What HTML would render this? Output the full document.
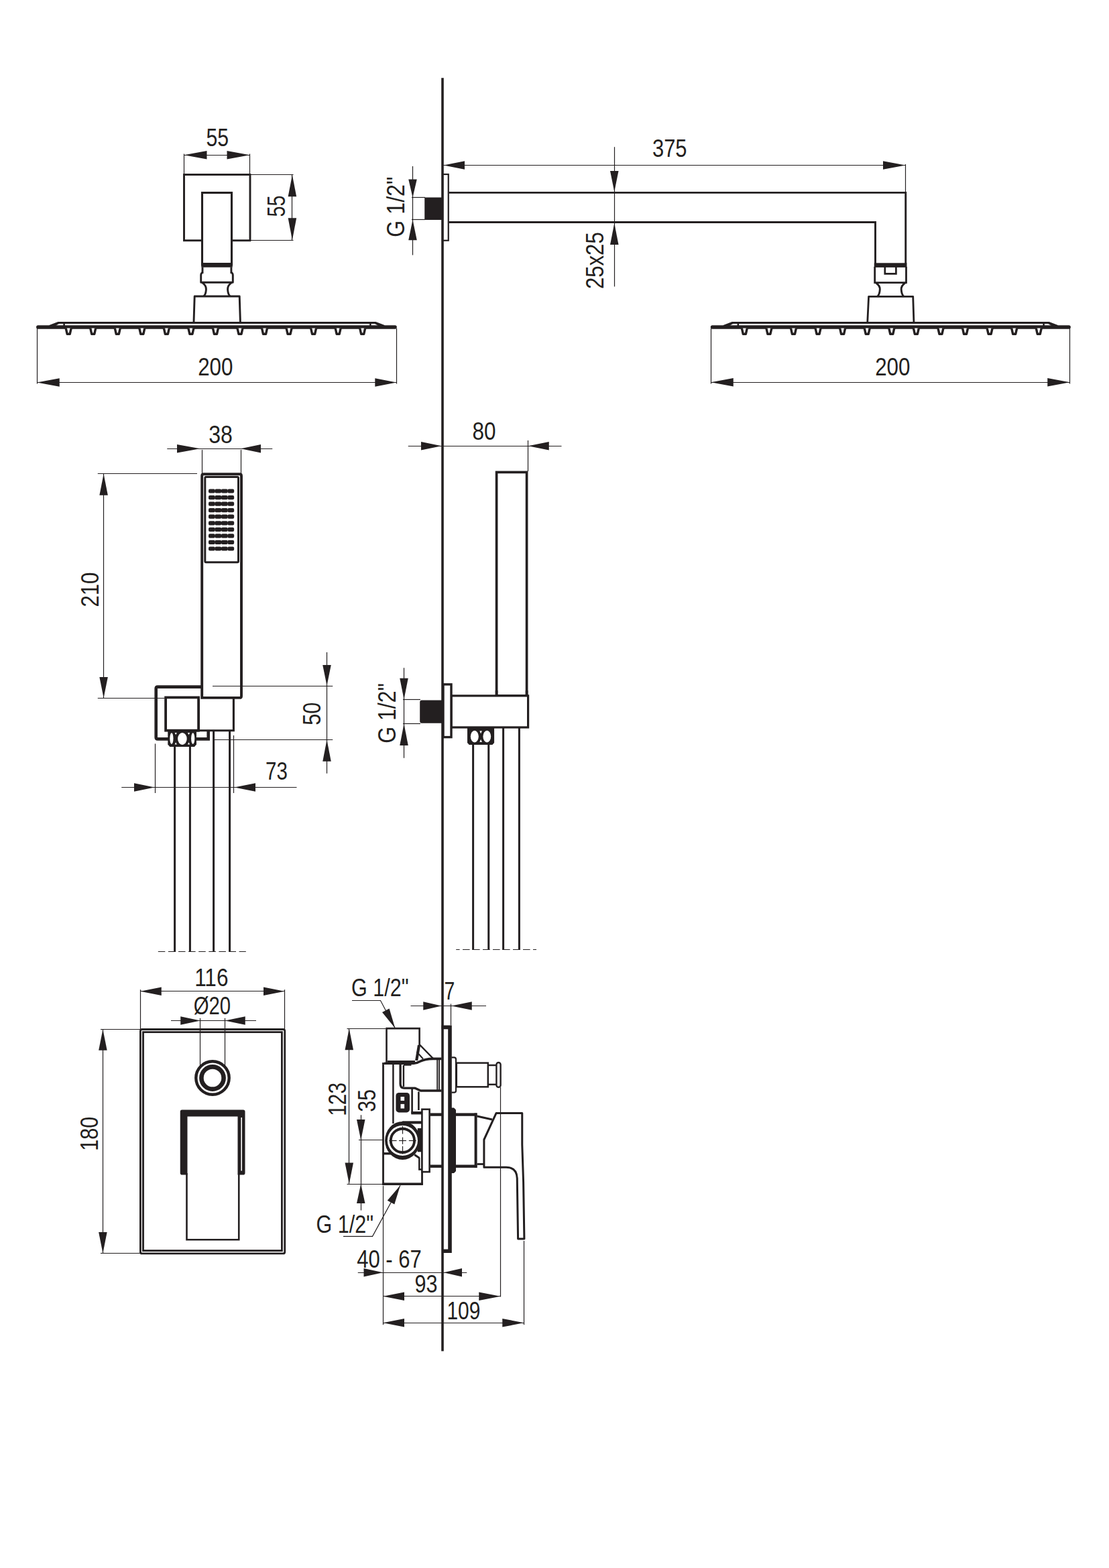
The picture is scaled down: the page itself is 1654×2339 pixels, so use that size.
<!DOCTYPE html>
<html lang="en">
<head>
<meta charset="utf-8">
<title>Shower set technical drawing</title>
<style>
html,body{margin:0;padding:0;background:#fff}
body{width:1654px;height:2339px;overflow:hidden}
svg{display:block}
text{font-family:"Liberation Sans",Arial,sans-serif;fill:#231f20}
</style>
</head>
<body>
<svg width="1654" height="2339" viewBox="0 0 1654 2339" role="img" aria-label="Shower set dimensional drawing">
<rect width="1654" height="2339" fill="#fff"/>
<!-- wall -->
<line x1="660" y1="116.25" x2="660" y2="2015.5" stroke="#231f20" stroke-width="3.6"/>
<!-- front view head -->
<text transform="translate(307.39 218.31) scale(0.8287 1)" font-size="36.5">55</text>
<line x1="274.5" y1="231.5" x2="372.5" y2="231.5" stroke="#231f20" stroke-width="1.2"/>
<polygon points="274.5,231.25 308.5,237.5 308.5,225" fill="#231f20"/>
<polygon points="372.5,231.25 338.5,225 338.5,237.5" fill="#231f20"/>
<line x1="274.5" y1="229.5" x2="274.5" y2="260" stroke="#231f20" stroke-width="1.2"/>
<line x1="372.5" y1="229.5" x2="372.5" y2="260" stroke="#231f20" stroke-width="1.2"/>
<line x1="373" y1="260.5" x2="437.5" y2="260.5" stroke="#231f20" stroke-width="1.2"/>
<line x1="373" y1="358.5" x2="437.5" y2="358.5" stroke="#231f20" stroke-width="1.2"/>
<line x1="435.5" y1="260.5" x2="435.5" y2="358.5" stroke="#231f20" stroke-width="1.2"/>
<polygon points="435.9,261 429.65,293.2 442.15,293.2" fill="#231f20"/>
<polygon points="435.9,358 442.15,325.3 429.65,325.3" fill="#231f20"/>
<text transform="translate(424.81 323.46) rotate(-90) scale(0.7916 1)" font-size="36.5">55</text>
<rect x="274.5" y="260.5" width="98.5" height="98.25" fill="none" stroke="#231f20" stroke-width="2.9"/>
<rect x="301.5" y="287.5" width="44" height="107.5" fill="#fff" stroke="#231f20" stroke-width="3.1"/>
<rect x="300.3" y="392" width="46.4" height="6.75" fill="#231f20"/>
<line x1="302" y1="398.5" x2="302" y2="408" stroke="#231f20" stroke-width="2.9"/>
<line x1="344.9" y1="398.5" x2="344.9" y2="408" stroke="#231f20" stroke-width="2.9"/>
<path d="M302,406.5 Q299.7,407.5 299.7,410.5 V421.2 H347.3 V410.5 Q347.3,407.5 345,406.5" fill="none" stroke="#231f20" stroke-width="2.9" stroke-linejoin="round"/>
<path d="M301.5,421.6 C306,424.5 307.6,428 307.4,432 C307.1,437 306,440 303.7,442" fill="none" stroke="#231f20" stroke-width="2.9"/>
<path d="M345.5,421.6 C341,424.5 339.4,428 339.6,432 C339.9,437 341,440 343.3,442" fill="none" stroke="#231f20" stroke-width="2.9"/>
<path d="M289,480 L290.2,442 H357.2 L358.4,480" fill="none" stroke="#231f20" stroke-width="2.9" stroke-linejoin="round"/>
<line x1="56.7" y1="488" x2="589.2" y2="488" stroke="#231f20" stroke-width="5.3" stroke-linecap="round"/>
<line x1="86" y1="481.5" x2="561" y2="481.5" stroke="#231f20" stroke-width="3.1"/>
<path d="M86.5,480 L73.5,485 V488 H79 L88,483.1 Z" fill="#231f20"/>
<path d="M560.5,480 L573.5,485 V488 H568 L559,483.1 Z" fill="#231f20"/>
<line x1="95.6" y1="481.5" x2="95.6" y2="486" stroke="#231f20" stroke-width="2.6"/>
<line x1="552.4" y1="481.5" x2="552.4" y2="486" stroke="#231f20" stroke-width="2.6"/>
<path d="M98.2,489.5 L100.2,498.3 H104.2 L106.2,489.5" fill="#fff" stroke="#231f20" stroke-width="3.4" stroke-linejoin="round"/>
<path d="M134.74,489.5 L136.74,498.3 H140.74 L142.74,489.5" fill="#fff" stroke="#231f20" stroke-width="3.4" stroke-linejoin="round"/>
<path d="M171.28,489.5 L173.28,498.3 H177.28 L179.28,489.5" fill="#fff" stroke="#231f20" stroke-width="3.4" stroke-linejoin="round"/>
<path d="M207.82,489.5 L209.82,498.3 H213.82 L215.82,489.5" fill="#fff" stroke="#231f20" stroke-width="3.4" stroke-linejoin="round"/>
<path d="M244.36,489.5 L246.36,498.3 H250.36 L252.36,489.5" fill="#fff" stroke="#231f20" stroke-width="3.4" stroke-linejoin="round"/>
<path d="M280.9,489.5 L282.9,498.3 H286.9 L288.9,489.5" fill="#fff" stroke="#231f20" stroke-width="3.4" stroke-linejoin="round"/>
<path d="M317.44,489.5 L319.44,498.3 H323.44 L325.44,489.5" fill="#fff" stroke="#231f20" stroke-width="3.4" stroke-linejoin="round"/>
<path d="M353.98,489.5 L355.98,498.3 H359.98 L361.98,489.5" fill="#fff" stroke="#231f20" stroke-width="3.4" stroke-linejoin="round"/>
<path d="M390.52,489.5 L392.52,498.3 H396.52 L398.52,489.5" fill="#fff" stroke="#231f20" stroke-width="3.4" stroke-linejoin="round"/>
<path d="M427.06,489.5 L429.06,498.3 H433.06 L435.06,489.5" fill="#fff" stroke="#231f20" stroke-width="3.4" stroke-linejoin="round"/>
<path d="M463.6,489.5 L465.6,498.3 H469.6 L471.6,489.5" fill="#fff" stroke="#231f20" stroke-width="3.4" stroke-linejoin="round"/>
<path d="M500.14,489.5 L502.14,498.3 H506.14 L508.14,489.5" fill="#fff" stroke="#231f20" stroke-width="3.4" stroke-linejoin="round"/>
<path d="M536.68,489.5 L538.68,498.3 H542.68 L544.68,489.5" fill="#fff" stroke="#231f20" stroke-width="3.4" stroke-linejoin="round"/>
<line x1="55.5" y1="490" x2="55.5" y2="572.5" stroke="#231f20" stroke-width="1.2"/>
<line x1="591.5" y1="490" x2="591.5" y2="572.5" stroke="#231f20" stroke-width="1.2"/>
<line x1="55" y1="570.5" x2="591.3" y2="570.5" stroke="#231f20" stroke-width="1.2"/>
<polygon points="55,570.4 88.75,576.65 88.75,564.15" fill="#231f20"/>
<polygon points="591.3,570.4 559.3,564.15 559.3,576.65" fill="#231f20"/>
<text transform="translate(295.14 559.67) scale(0.8599 1)" font-size="36.5">200</text>
<!-- side view arm -->
<rect x="660" y="260" width="8.75" height="98.75" fill="none" stroke="#231f20" stroke-width="2.2"/>
<rect x="633.25" y="294.5" width="26.75" height="33.5" fill="#231f20"/>
<line x1="615.5" y1="248" x2="615.5" y2="380.5" stroke="#231f20" stroke-width="1.2"/>
<polygon points="615.5,294.5 621.75,267.5 609.25,267.5" fill="#231f20"/>
<polygon points="615.5,327.8 609.25,358.25 621.75,358.25" fill="#231f20"/>
<line x1="614" y1="294.5" x2="634" y2="294.5" stroke="#231f20" stroke-width="1.2"/>
<line x1="614" y1="327.5" x2="634" y2="327.5" stroke="#231f20" stroke-width="1.2"/>
<text transform="translate(603.04 353.65) rotate(-90) scale(0.8809 1)" font-size="36.5">G 1/2&quot;</text>
<line x1="661" y1="246.5" x2="1350.5" y2="246.5" stroke="#231f20" stroke-width="1.2"/>
<polygon points="661.5,246.5 693,252.75 693,240.25" fill="#231f20"/>
<polygon points="1350.5,246.5 1317,240.25 1317,252.75" fill="#231f20"/>
<line x1="1350.5" y1="245" x2="1350.5" y2="287" stroke="#231f20" stroke-width="1.2"/>
<text transform="translate(973.01 233.82) scale(0.8466 1)" font-size="36.5">375</text>
<line x1="916.5" y1="219.25" x2="916.5" y2="427.5" stroke="#231f20" stroke-width="1.2"/>
<polygon points="916.25,286 922.5,255 910,255" fill="#231f20"/>
<polygon points="916.25,333 910,365 922.5,365" fill="#231f20"/>
<text transform="translate(899.67 431.1) rotate(-90) scale(0.8537 1)" font-size="36.5">25x25</text>
<path d="M669.5,287.4 H1350.75 V393" fill="none" stroke="#231f20" stroke-width="2.9"/>
<path d="M669.5,331.5 H1305.5 V393" fill="none" stroke="#231f20" stroke-width="2.9"/>
<rect x="1303.75" y="392.3" width="48.75" height="6.6" fill="#231f20"/>
<path d="M1304.7,398 V421.6 H1351.5 V398" fill="none" stroke="#231f20" stroke-width="2.8"/>
<path d="M1319.8,398 V408.3 H1336.4 V398" fill="none" stroke="#231f20" stroke-width="2.7"/>
<path d="M1306.5,422 C1311,425 1312.5,428 1312.3,432 C1312,437 1311,440 1308.5,442.4" fill="none" stroke="#231f20" stroke-width="2.9"/>
<path d="M1350,422 C1345.5,425 1344,428 1344.2,432 C1344.5,437 1345.5,440 1348,442.4" fill="none" stroke="#231f20" stroke-width="2.9"/>
<path d="M1293.8,480 L1295.6,442.4 H1361.7 L1362.9,480" fill="none" stroke="#231f20" stroke-width="2.8" stroke-linejoin="round"/>
<line x1="1062.4" y1="488" x2="1594.2" y2="488" stroke="#231f20" stroke-width="5.3" stroke-linecap="round"/>
<line x1="1091.25" y1="481.5" x2="1565.2" y2="481.5" stroke="#231f20" stroke-width="3.1"/>
<path d="M1091.75,480 L1078.75,485 V488 H1084.25 L1093.25,483.1 Z" fill="#231f20"/>
<path d="M1564.7,480 L1577.7,485 V488 H1572.2 L1563.2,483.1 Z" fill="#231f20"/>
<line x1="1100.85" y1="481.5" x2="1100.85" y2="486" stroke="#231f20" stroke-width="2.6"/>
<line x1="1556.6" y1="481.5" x2="1556.6" y2="486" stroke="#231f20" stroke-width="2.6"/>
<path d="M1106.3,489.5 L1108.3,498.3 H1112.3 L1114.3,489.5" fill="#fff" stroke="#231f20" stroke-width="3.4" stroke-linejoin="round"/>
<path d="M1142.88,489.5 L1144.88,498.3 H1148.88 L1150.88,489.5" fill="#fff" stroke="#231f20" stroke-width="3.4" stroke-linejoin="round"/>
<path d="M1179.46,489.5 L1181.46,498.3 H1185.46 L1187.46,489.5" fill="#fff" stroke="#231f20" stroke-width="3.4" stroke-linejoin="round"/>
<path d="M1216.04,489.5 L1218.04,498.3 H1222.04 L1224.04,489.5" fill="#fff" stroke="#231f20" stroke-width="3.4" stroke-linejoin="round"/>
<path d="M1252.62,489.5 L1254.62,498.3 H1258.62 L1260.62,489.5" fill="#fff" stroke="#231f20" stroke-width="3.4" stroke-linejoin="round"/>
<path d="M1289.2,489.5 L1291.2,498.3 H1295.2 L1297.2,489.5" fill="#fff" stroke="#231f20" stroke-width="3.4" stroke-linejoin="round"/>
<path d="M1325.78,489.5 L1327.78,498.3 H1331.78 L1333.78,489.5" fill="#fff" stroke="#231f20" stroke-width="3.4" stroke-linejoin="round"/>
<path d="M1362.36,489.5 L1364.36,498.3 H1368.36 L1370.36,489.5" fill="#fff" stroke="#231f20" stroke-width="3.4" stroke-linejoin="round"/>
<path d="M1398.94,489.5 L1400.94,498.3 H1404.94 L1406.94,489.5" fill="#fff" stroke="#231f20" stroke-width="3.4" stroke-linejoin="round"/>
<path d="M1435.52,489.5 L1437.52,498.3 H1441.52 L1443.52,489.5" fill="#fff" stroke="#231f20" stroke-width="3.4" stroke-linejoin="round"/>
<path d="M1472.1,489.5 L1474.1,498.3 H1478.1 L1480.1,489.5" fill="#fff" stroke="#231f20" stroke-width="3.4" stroke-linejoin="round"/>
<path d="M1508.68,489.5 L1510.68,498.3 H1514.68 L1516.68,489.5" fill="#fff" stroke="#231f20" stroke-width="3.4" stroke-linejoin="round"/>
<path d="M1545.26,489.5 L1547.26,498.3 H1551.26 L1553.26,489.5" fill="#fff" stroke="#231f20" stroke-width="3.4" stroke-linejoin="round"/>
<line x1="1060.5" y1="490" x2="1060.5" y2="572.5" stroke="#231f20" stroke-width="1.2"/>
<line x1="1595.5" y1="490" x2="1595.5" y2="572.5" stroke="#231f20" stroke-width="1.2"/>
<line x1="1060.3" y1="570.5" x2="1595.5" y2="570.5" stroke="#231f20" stroke-width="1.2"/>
<polygon points="1060.3,570.2 1093.75,576.45 1093.75,563.95" fill="#231f20"/>
<polygon points="1595.5,570.2 1562.25,563.95 1562.25,576.45" fill="#231f20"/>
<text transform="translate(1305.14 559.82) scale(0.8599 1)" font-size="36.5">200</text>
<!-- hand shower front -->
<text transform="translate(311.22 661.07) scale(0.8790 1)" font-size="36.5">38</text>
<line x1="249.25" y1="669.5" x2="406.25" y2="669.5" stroke="#231f20" stroke-width="1.2"/>
<polygon points="298.5,669.25 264,663 264,675.5" fill="#231f20"/>
<polygon points="359,669.25 389,675.5 389,663" fill="#231f20"/>
<line x1="301.5" y1="671" x2="301.5" y2="706" stroke="#231f20" stroke-width="1.2"/>
<line x1="359.5" y1="671" x2="359.5" y2="706" stroke="#231f20" stroke-width="1.2"/>
<path d="M301,1024.6 H235 Q232.7,1024.6 232.7,1027 V1100 Q232.7,1102.4 235,1102.4 H310.7 V1090" fill="none" stroke="#231f20" stroke-width="4.6"/>
<path d="M301.2,1040.9 V709.7 Q301.2,707.2 303.7,707.2 H357.5 Q360,707.2 360,709.7 V1038.4 Q360,1040.9 357.5,1040.9 Z" fill="#fff" stroke="#231f20" stroke-width="3.9"/>
<rect x="305.8" y="711.6" width="49.7" height="127.15" fill="none" rx="1.5" stroke="#231f20" stroke-width="3"/>
<rect x="311" y="729.4" width="9.8" height="6.2" fill="#231f20" rx="2"/>
<rect x="320.45" y="729.4" width="9.8" height="6.2" fill="#231f20" rx="2"/>
<rect x="329.9" y="729.4" width="9.8" height="6.2" fill="#231f20" rx="2"/>
<rect x="339.35" y="729.4" width="9.8" height="6.2" fill="#231f20" rx="2"/>
<rect x="311" y="738.96" width="9.8" height="6.2" fill="#231f20" rx="2"/>
<rect x="320.45" y="738.96" width="9.8" height="6.2" fill="#231f20" rx="2"/>
<rect x="329.9" y="738.96" width="9.8" height="6.2" fill="#231f20" rx="2"/>
<rect x="339.35" y="738.96" width="9.8" height="6.2" fill="#231f20" rx="2"/>
<rect x="311" y="748.51" width="9.8" height="6.2" fill="#231f20" rx="2"/>
<rect x="320.45" y="748.51" width="9.8" height="6.2" fill="#231f20" rx="2"/>
<rect x="329.9" y="748.51" width="9.8" height="6.2" fill="#231f20" rx="2"/>
<rect x="339.35" y="748.51" width="9.8" height="6.2" fill="#231f20" rx="2"/>
<rect x="311" y="758.07" width="9.8" height="6.2" fill="#231f20" rx="2"/>
<rect x="320.45" y="758.07" width="9.8" height="6.2" fill="#231f20" rx="2"/>
<rect x="329.9" y="758.07" width="9.8" height="6.2" fill="#231f20" rx="2"/>
<rect x="339.35" y="758.07" width="9.8" height="6.2" fill="#231f20" rx="2"/>
<rect x="311" y="767.62" width="9.8" height="6.2" fill="#231f20" rx="2"/>
<rect x="320.45" y="767.62" width="9.8" height="6.2" fill="#231f20" rx="2"/>
<rect x="329.9" y="767.62" width="9.8" height="6.2" fill="#231f20" rx="2"/>
<rect x="339.35" y="767.62" width="9.8" height="6.2" fill="#231f20" rx="2"/>
<rect x="311" y="777.18" width="9.8" height="6.2" fill="#231f20" rx="2"/>
<rect x="320.45" y="777.18" width="9.8" height="6.2" fill="#231f20" rx="2"/>
<rect x="329.9" y="777.18" width="9.8" height="6.2" fill="#231f20" rx="2"/>
<rect x="339.35" y="777.18" width="9.8" height="6.2" fill="#231f20" rx="2"/>
<rect x="311" y="786.74" width="9.8" height="6.2" fill="#231f20" rx="2"/>
<rect x="320.45" y="786.74" width="9.8" height="6.2" fill="#231f20" rx="2"/>
<rect x="329.9" y="786.74" width="9.8" height="6.2" fill="#231f20" rx="2"/>
<rect x="339.35" y="786.74" width="9.8" height="6.2" fill="#231f20" rx="2"/>
<rect x="311" y="796.29" width="9.8" height="6.2" fill="#231f20" rx="2"/>
<rect x="320.45" y="796.29" width="9.8" height="6.2" fill="#231f20" rx="2"/>
<rect x="329.9" y="796.29" width="9.8" height="6.2" fill="#231f20" rx="2"/>
<rect x="339.35" y="796.29" width="9.8" height="6.2" fill="#231f20" rx="2"/>
<rect x="311" y="805.85" width="9.8" height="6.2" fill="#231f20" rx="2"/>
<rect x="320.45" y="805.85" width="9.8" height="6.2" fill="#231f20" rx="2"/>
<rect x="329.9" y="805.85" width="9.8" height="6.2" fill="#231f20" rx="2"/>
<rect x="339.35" y="805.85" width="9.8" height="6.2" fill="#231f20" rx="2"/>
<rect x="311" y="815.4" width="9.8" height="6.2" fill="#231f20" rx="2"/>
<rect x="320.45" y="815.4" width="9.8" height="6.2" fill="#231f20" rx="2"/>
<rect x="329.9" y="815.4" width="9.8" height="6.2" fill="#231f20" rx="2"/>
<rect x="339.35" y="815.4" width="9.8" height="6.2" fill="#231f20" rx="2"/>
<rect x="247.1" y="1040.4" width="49" height="49.3" fill="none" stroke="#231f20" stroke-width="3.8"/>
<path d="M348.4,1041 V1089.7 H296" fill="none" stroke="#231f20" stroke-width="3.1"/>
<path d="M250.3,1089 V1110.5 L253.3,1113.9 H290 L293,1110.5 V1089 Z" fill="#231f20"/>
<ellipse cx="271.9" cy="1102" rx="6.8" ry="9" fill="#fff"/>
<ellipse cx="255.9" cy="1101.6" rx="2.6" ry="8.3" fill="#fff"/>
<ellipse cx="287.7" cy="1101.6" rx="2.6" ry="8.3" fill="#fff"/>
<path d="M260.59999999999997,1093 H263.8 L262.2,1096.2 Z" fill="#fff"/>
<path d="M260.59999999999997,1110.4 H263.8 L262.2,1107.2 Z" fill="#fff"/>
<path d="M279.9,1093 H283.1 L281.5,1096.2 Z" fill="#fff"/>
<path d="M279.9,1110.4 H283.1 L281.5,1107.2 Z" fill="#fff"/>
<line x1="250.5" y1="1090" x2="296" y2="1090" stroke="#231f20" stroke-width="3.2"/>
<line x1="260.6" y1="1113" x2="260.6" y2="1420" stroke="#231f20" stroke-width="3"/>
<line x1="283.4" y1="1113" x2="283.4" y2="1420" stroke="#231f20" stroke-width="3"/>
<line x1="318.6" y1="1090" x2="318.6" y2="1420" stroke="#231f20" stroke-width="3"/>
<line x1="342.6" y1="1090" x2="342.6" y2="1420" stroke="#231f20" stroke-width="3"/>
<line x1="235.8" y1="1419.5" x2="366.8" y2="1419.5" stroke="#231f20" stroke-width="1.1" stroke-dasharray="10.5 4.6"/>
<line x1="154.5" y1="707" x2="154.5" y2="1041" stroke="#231f20" stroke-width="1.2"/>
<polygon points="154.6,707 148.35,738.75 160.85,738.75" fill="#231f20"/>
<polygon points="154.6,1041 160.85,1010 148.35,1010" fill="#231f20"/>
<line x1="145.75" y1="706.5" x2="294" y2="706.5" stroke="#231f20" stroke-width="1.2"/>
<line x1="145.75" y1="1041.5" x2="245.5" y2="1041.5" stroke="#231f20" stroke-width="1.2"/>
<text transform="translate(146.57 905.6) rotate(-90) scale(0.8547 1)" font-size="36.5">210</text>
<line x1="487.5" y1="973" x2="487.5" y2="1153.75" stroke="#231f20" stroke-width="1.2"/>
<polygon points="487.5,1022.8 493.75,992 481.25,992" fill="#231f20"/>
<polygon points="487.5,1103.4 481.25,1135.75 493.75,1135.75" fill="#231f20"/>
<line x1="317" y1="1023.5" x2="496.25" y2="1023.5" stroke="#231f20" stroke-width="1.2"/>
<line x1="319.75" y1="1103.5" x2="496.25" y2="1103.5" stroke="#231f20" stroke-width="1.2"/>
<text transform="translate(478.17 1081.73) rotate(-90) scale(0.8410 1)" font-size="36.5">50</text>
<line x1="181.25" y1="1174.5" x2="442.5" y2="1174.5" stroke="#231f20" stroke-width="1.2"/>
<polygon points="230.5,1174.4 200,1168.15 200,1180.65" fill="#231f20"/>
<polygon points="349.5,1174.4 381,1180.65 381,1168.15" fill="#231f20"/>
<line x1="231.5" y1="1109.4" x2="231.5" y2="1183" stroke="#231f20" stroke-width="1.2"/>
<line x1="348.5" y1="1097" x2="348.5" y2="1183" stroke="#231f20" stroke-width="1.2"/>
<text transform="translate(395.98 1163.32) scale(0.8081 1)" font-size="36.5">73</text>
<!-- hand shower side -->
<text transform="translate(704.4 656.32) scale(0.8633 1)" font-size="36.5">80</text>
<line x1="608.75" y1="665.5" x2="837.5" y2="665.5" stroke="#231f20" stroke-width="1.2"/>
<polygon points="658.5,665.25 628,659 628,671.5" fill="#231f20"/>
<polygon points="787.75,665.25 818.75,671.5 818.75,659" fill="#231f20"/>
<line x1="787.5" y1="657" x2="787.5" y2="703" stroke="#231f20" stroke-width="1.2"/>
<rect x="740.6" y="704.4" width="45" height="333.6" fill="none" stroke="#231f20" stroke-width="3.7"/>
<rect x="673" y="1037.9" width="114.6" height="47.1" fill="#fff" stroke="#231f20" stroke-width="3.2"/>
<line x1="740.6" y1="1030" x2="740.6" y2="1038" stroke="#231f20" stroke-width="3.7"/>
<line x1="785.6" y1="1030" x2="785.6" y2="1038" stroke="#231f20" stroke-width="3.7"/>
<rect x="661" y="1020.9" width="12" height="78.7" fill="#fff" stroke="#231f20" stroke-width="3.4"/>
<path d="M660,1044.5 H629 Q626.2,1044.5 626.2,1047.5 V1075.7 Q626.2,1078.7 629,1078.7 H660 Z" fill="#231f20"/>
<line x1="602.5" y1="996.25" x2="602.5" y2="1130.75" stroke="#231f20" stroke-width="1.2"/>
<polygon points="602.5,1043.3 608.75,1011.75 596.25,1011.75" fill="#231f20"/>
<polygon points="602.5,1079.5 596.25,1112 608.75,1112" fill="#231f20"/>
<line x1="601" y1="1043.5" x2="627" y2="1043.5" stroke="#231f20" stroke-width="1.2"/>
<line x1="601" y1="1079.5" x2="627" y2="1079.5" stroke="#231f20" stroke-width="1.2"/>
<text transform="translate(589.54 1108.64) rotate(-90) scale(0.8759 1)" font-size="36.5">G 1/2&quot;</text>
<path d="M697,1084.3 V1108 L699.7,1110.9 H734.4 L737.1,1108 V1084.3 Z" fill="#231f20"/>
<ellipse cx="707.8" cy="1098.6" rx="6" ry="8.8" fill="#fff"/>
<ellipse cx="726.3" cy="1098.6" rx="5.9" ry="8.8" fill="#fff"/>
<path d="M715.3,1090.2 H718.9 L717.1,1094.4 Z" fill="#fff"/>
<path d="M715.3,1107 H718.9 L717.1,1102.8 Z" fill="#fff"/>
<line x1="705.6" y1="1109.5" x2="705.6" y2="1417" stroke="#231f20" stroke-width="3"/>
<line x1="728.75" y1="1109.5" x2="728.75" y2="1417" stroke="#231f20" stroke-width="3"/>
<line x1="750.6" y1="1085" x2="750.6" y2="1417" stroke="#231f20" stroke-width="3"/>
<line x1="774.4" y1="1085" x2="774.4" y2="1417" stroke="#231f20" stroke-width="3"/>
<line x1="680.2" y1="1416.5" x2="800" y2="1416.5" stroke="#231f20" stroke-width="1.1" stroke-dasharray="10.6 4.4" stroke-dashoffset="5.2"/>
<!-- valve front -->
<text transform="translate(290.17 1471.42) scale(0.8641 1)" font-size="36.5">116</text>
<line x1="209.25" y1="1478.5" x2="424.5" y2="1478.5" stroke="#231f20" stroke-width="1.2"/>
<polygon points="209.25,1478.75 240.75,1485 240.75,1472.5" fill="#231f20"/>
<polygon points="424.5,1478.75 393,1472.5 393,1485" fill="#231f20"/>
<line x1="209.5" y1="1476.25" x2="209.5" y2="1535" stroke="#231f20" stroke-width="1.2"/>
<line x1="424.5" y1="1476.25" x2="424.5" y2="1535" stroke="#231f20" stroke-width="1.2"/>
<text transform="translate(288.76 1513.27) scale(0.8034 1)" font-size="36.5">Ø20</text>
<line x1="255" y1="1522.5" x2="382" y2="1522.5" stroke="#231f20" stroke-width="1.2"/>
<polygon points="298.75,1522.5 269.25,1516.25 269.25,1528.75" fill="#231f20"/>
<polygon points="335.5,1522.5 365.75,1528.75 365.75,1516.25" fill="#231f20"/>
<line x1="298.5" y1="1518.75" x2="298.5" y2="1592" stroke="#231f20" stroke-width="1.2"/>
<line x1="335.5" y1="1518.75" x2="335.5" y2="1592" stroke="#231f20" stroke-width="1.2"/>
<rect x="209.4" y="1535.5" width="215.35" height="334.4" fill="none" rx="2.5" stroke="#231f20" stroke-width="2.8"/>
<rect x="213.5" y="1539.6" width="206.9" height="326" fill="none" stroke="#231f20" stroke-width="2.8"/>
<circle cx="317" cy="1608" r="24.7" fill="#fff" stroke="#231f20" stroke-width="4.4"/>
<circle cx="317" cy="1608" r="16.6" fill="#fff" stroke="#231f20" stroke-width="6.6"/>
<path d="M278.5,1750 V1849.25 H356.25 V1750" fill="none" stroke="#231f20" stroke-width="2.6"/>
<path d="M271.5,1655.5 H362.7 Q365.5,1655.5 365.5,1658.3 V1749.7 Q365.5,1752.5 362.7,1752.5 H354.5 V1665.5 H279.5 V1752.5 H271.5 Q268.75,1752.5 268.75,1749.7 V1658.3 Q268.75,1655.5 271.5,1655.5 Z" fill="#231f20"/>
<line x1="360.2" y1="1667" x2="360.2" y2="1746.5" stroke="#fff" stroke-width="1.6"/>
<line x1="153.5" y1="1535.5" x2="153.5" y2="1869.5" stroke="#231f20" stroke-width="1.2"/>
<polygon points="153.4,1535.5 147.15,1566.75 159.65,1566.75" fill="#231f20"/>
<polygon points="153.4,1869.5 159.65,1838 147.15,1838" fill="#231f20"/>
<line x1="150" y1="1535.5" x2="209" y2="1535.5" stroke="#231f20" stroke-width="1.2"/>
<line x1="150" y1="1869.5" x2="209" y2="1869.5" stroke="#231f20" stroke-width="1.2"/>
<text transform="translate(145.67 1716.86) rotate(-90) scale(0.8388 1)" font-size="36.5">180</text>
<!-- valve side -->
<text transform="translate(524.03 1486.34) scale(0.8364 1)" font-size="36.5">G 1/2&quot;</text>
<path d="M525,1492.5 H567.5 L589.25,1533.75" fill="none" stroke="#231f20" stroke-width="1.2"/>
<polygon points="589.25,1533.75 580.61,1504.41 569.99,1509.99" fill="#231f20"/>
<text transform="translate(662.54 1490.97) scale(0.7780 1)" font-size="36.5">7</text>
<line x1="612.5" y1="1500.5" x2="725" y2="1500.5" stroke="#231f20" stroke-width="1.2"/>
<polygon points="658.6,1500.4 631.25,1494.15 631.25,1506.65" fill="#231f20"/>
<polygon points="673,1500.4 703.75,1506.65 703.75,1494.15" fill="#231f20"/>
<line x1="672.5" y1="1497.5" x2="672.5" y2="1529.4" stroke="#231f20" stroke-width="1.2"/>
<line x1="520.5" y1="1534.25" x2="520.5" y2="1765.75" stroke="#231f20" stroke-width="1.2"/>
<polygon points="520.75,1534.25 514.5,1566.25 527,1566.25" fill="#231f20"/>
<polygon points="520.75,1765.9 527,1734.5 514.5,1734.5" fill="#231f20"/>
<line x1="517.5" y1="1534.5" x2="575" y2="1534.5" stroke="#231f20" stroke-width="1.2"/>
<line x1="517.5" y1="1766.5" x2="571" y2="1766.5" stroke="#231f20" stroke-width="1.2"/>
<text transform="translate(516.32 1664.8) rotate(-90) scale(0.8183 1)" font-size="36.5">123</text>
<line x1="538.5" y1="1663.25" x2="538.5" y2="1805.5" stroke="#231f20" stroke-width="1.2"/>
<polygon points="538.25,1700.75 544.5,1670 532,1670" fill="#231f20"/>
<polygon points="538.25,1766.25 532,1795 544.5,1795" fill="#231f20"/>
<line x1="535" y1="1700.5" x2="572" y2="1700.5" stroke="#231f20" stroke-width="1.2"/>
<text transform="translate(559.82 1658.71) rotate(-90) scale(0.8301 1)" font-size="36.5">35</text>
<text transform="translate(471.53 1838.64) scale(0.8364 1)" font-size="36.5">G 1/2&quot;</text>
<path d="M512,1844.4 H555.5 L597,1768.25" fill="none" stroke="#231f20" stroke-width="1.2"/>
<polygon points="597,1768.25 577.74,1790.81 588.26,1796.59" fill="#231f20"/>
<text transform="translate(532.19 1890.77) scale(0.8499 1)" font-size="36.5">40 - 67</text>
<line x1="533.75" y1="1898.5" x2="696.25" y2="1898.5" stroke="#231f20" stroke-width="1.2"/>
<polygon points="571.25,1898.25 542.5,1892 542.5,1904.5" fill="#231f20"/>
<polygon points="661.5,1898.25 689,1904.5 689,1892" fill="#231f20"/>
<text transform="translate(618.6 1927.82) scale(0.8370 1)" font-size="36.5">93</text>
<line x1="571.25" y1="1933.5" x2="746.5" y2="1933.5" stroke="#231f20" stroke-width="1.2"/>
<polygon points="571.25,1933.75 603,1940 603,1927.5" fill="#231f20"/>
<polygon points="746.5,1933.75 714.25,1927.5 714.25,1940" fill="#231f20"/>
<text transform="translate(666.44 1967.82) scale(0.8213 1)" font-size="36.5">109</text>
<line x1="571.25" y1="1973.5" x2="781.4" y2="1973.5" stroke="#231f20" stroke-width="1.2"/>
<polygon points="571.25,1973.25 603,1979.5 603,1967" fill="#231f20"/>
<polygon points="781.4,1973.25 749.25,1967 749.25,1979.5" fill="#231f20"/>
<line x1="571.5" y1="1768.75" x2="571.5" y2="1976.25" stroke="#231f20" stroke-width="1.2"/>
<line x1="746.5" y1="1622" x2="746.5" y2="1934.5" stroke="#231f20" stroke-width="1.2"/>
<line x1="781.5" y1="1851" x2="781.5" y2="1976.25" stroke="#231f20" stroke-width="1.2"/>
<path d="M576.5,1586 V1534.1 H625.6 V1560" fill="none" stroke="#231f20" stroke-width="2.6"/>
<path d="M625,1559 L621.2,1582" fill="none" stroke="#231f20" stroke-width="4.2"/>
<path d="M626,1558.5 L646,1579" fill="none" stroke="#231f20" stroke-width="2.5"/>
<path d="M621.5,1569 L631,1579.5" fill="none" stroke="#231f20" stroke-width="2"/>
<path d="M571.5,1585 V1766.2 H629.5 V1716" fill="none" stroke="#231f20" stroke-width="2.8"/>
<line x1="570.2" y1="1766.2" x2="630.8" y2="1766.2" stroke="#231f20" stroke-width="3.5"/>
<path d="M573,1586.3 H617 Q622,1586 626,1583.5 Q634,1579.6 646,1579.4 H658.5" fill="none" stroke="#231f20" stroke-width="3.6"/>
<line x1="578" y1="1583.6" x2="619" y2="1583.6" stroke="#231f20" stroke-width="3"/>
<line x1="571.7" y1="1720.8" x2="586" y2="1720.8" stroke="#231f20" stroke-width="3.4"/>
<line x1="586.4" y1="1588" x2="586.4" y2="1676" stroke="#231f20" stroke-width="2.5"/>
<path d="M597.1,1588 V1617 Q597.1,1623.2 603,1623.2 H619 L627.5,1627 H658.5" fill="none" stroke="#231f20" stroke-width="3.3"/>
<line x1="601.9" y1="1589" x2="601.9" y2="1621" stroke="#231f20" stroke-width="2.4"/>
<line x1="602" y1="1588.6" x2="613.5" y2="1588.6" stroke="#231f20" stroke-width="2.2"/>
<line x1="652.2" y1="1579" x2="652.2" y2="1627" stroke="#231f20" stroke-width="1.9"/>
<line x1="655" y1="1579" x2="655" y2="1627" stroke="#231f20" stroke-width="1.8"/>
<rect x="590.4" y="1630" width="20.6" height="29.4" fill="#231f20" rx="4.5"/>
<rect x="597.5" y="1636" width="5.6" height="5.9" fill="#fff"/>
<rect x="597.5" y="1646.9" width="5.6" height="6.6" fill="#fff"/>
<path d="M614.6,1624 V1660 H629" fill="none" stroke="#231f20" stroke-width="2.6"/>
<line x1="624.4" y1="1628.5" x2="624.4" y2="1656" stroke="#231f20" stroke-width="2.6"/>
<line x1="613.3" y1="1660.2" x2="629" y2="1660.2" stroke="#231f20" stroke-width="4.4"/>
<rect x="622.8" y="1683" width="6.7" height="35.3" fill="#231f20"/>
<path d="M618.2,1722.6 L625.6,1727.5" fill="none" stroke="#231f20" stroke-width="3"/>
<path d="M625.3,1727 V1744.5 H629" fill="none" stroke="#231f20" stroke-width="2.5"/>
<line x1="600" y1="1674.4" x2="629" y2="1674.4" stroke="#231f20" stroke-width="4.1"/>
<ellipse cx="600.4" cy="1701.4" rx="26.3" ry="28.5" fill="#231f20"/>
<circle cx="600.4" cy="1701.4" r="22.6" fill="#fff"/>
<circle cx="600.4" cy="1701.4" r="17.65" fill="#fff" stroke="#231f20" stroke-width="3.9"/>
<line x1="580.3" y1="1701.5" x2="591.6" y2="1701.5" stroke="#231f20" stroke-width="1.2"/>
<line x1="595" y1="1701.5" x2="605.9" y2="1701.5" stroke="#231f20" stroke-width="1.2"/>
<line x1="609.8" y1="1701.5" x2="620.7" y2="1701.5" stroke="#231f20" stroke-width="1.2"/>
<line x1="600.5" y1="1679.7" x2="600.5" y2="1691.5" stroke="#231f20" stroke-width="1.2"/>
<line x1="600.5" y1="1696.5" x2="600.5" y2="1706.8" stroke="#231f20" stroke-width="1.2"/>
<line x1="600.5" y1="1709.75" x2="600.5" y2="1721.6" stroke="#231f20" stroke-width="1.2"/>
<rect x="629.4" y="1654.75" width="11.2" height="93.35" fill="#fff" stroke="#231f20" stroke-width="2.6"/>
<line x1="641.5" y1="1662.6" x2="659" y2="1662.6" stroke="#231f20" stroke-width="4.4"/>
<line x1="641.5" y1="1739.7" x2="659" y2="1739.7" stroke="#231f20" stroke-width="4.4"/>
<path d="M658.5,1532.4 H671 V1866.2 H661" fill="none" stroke="#231f20" stroke-width="5.6"/>
<path d="M673.5,1577.3 H677.3 Q680,1577.3 680,1580 V1627 Q680,1629.7 677.3,1629.7 H673.5" fill="none" stroke="#231f20" stroke-width="2.2"/>
<rect x="680.8" y="1585.6" width="47" height="35.7" fill="none" stroke="#231f20" stroke-width="2.5"/>
<path d="M728,1589 H740 M728,1617.75 H740" fill="none" stroke="#231f20" stroke-width="2.4"/>
<rect x="740.4" y="1585" width="6.2" height="36.8" fill="none" rx="3.1" stroke="#231f20" stroke-width="2.4"/>
<path d="M673,1652.5 H677 L680,1655.5 V1747 L677,1750 H673 Z" fill="#231f20"/>
<line x1="680" y1="1662.6" x2="711.5" y2="1662.6" stroke="#231f20" stroke-width="4.4"/>
<line x1="680" y1="1739.7" x2="711.5" y2="1739.7" stroke="#231f20" stroke-width="4.4"/>
<line x1="709.6" y1="1660.4" x2="709.6" y2="1741.9" stroke="#231f20" stroke-width="4"/>
<path d="M711.5,1665 L734,1670" fill="none" stroke="#231f20" stroke-width="3"/>
<line x1="711.5" y1="1736.5" x2="722" y2="1736.5" stroke="#231f20" stroke-width="2.8"/>
<path d="M740,1660.6 H778.75 V1707.5 L780.6,1763.75 L781.9,1848 H772.6 L771.25,1757.5 Q770.5,1741.25 755,1741.25 H721.9 V1700 Z" fill="none" stroke="#231f20" stroke-width="3" stroke-linejoin="round"/>
</svg>
</body>
</html>
